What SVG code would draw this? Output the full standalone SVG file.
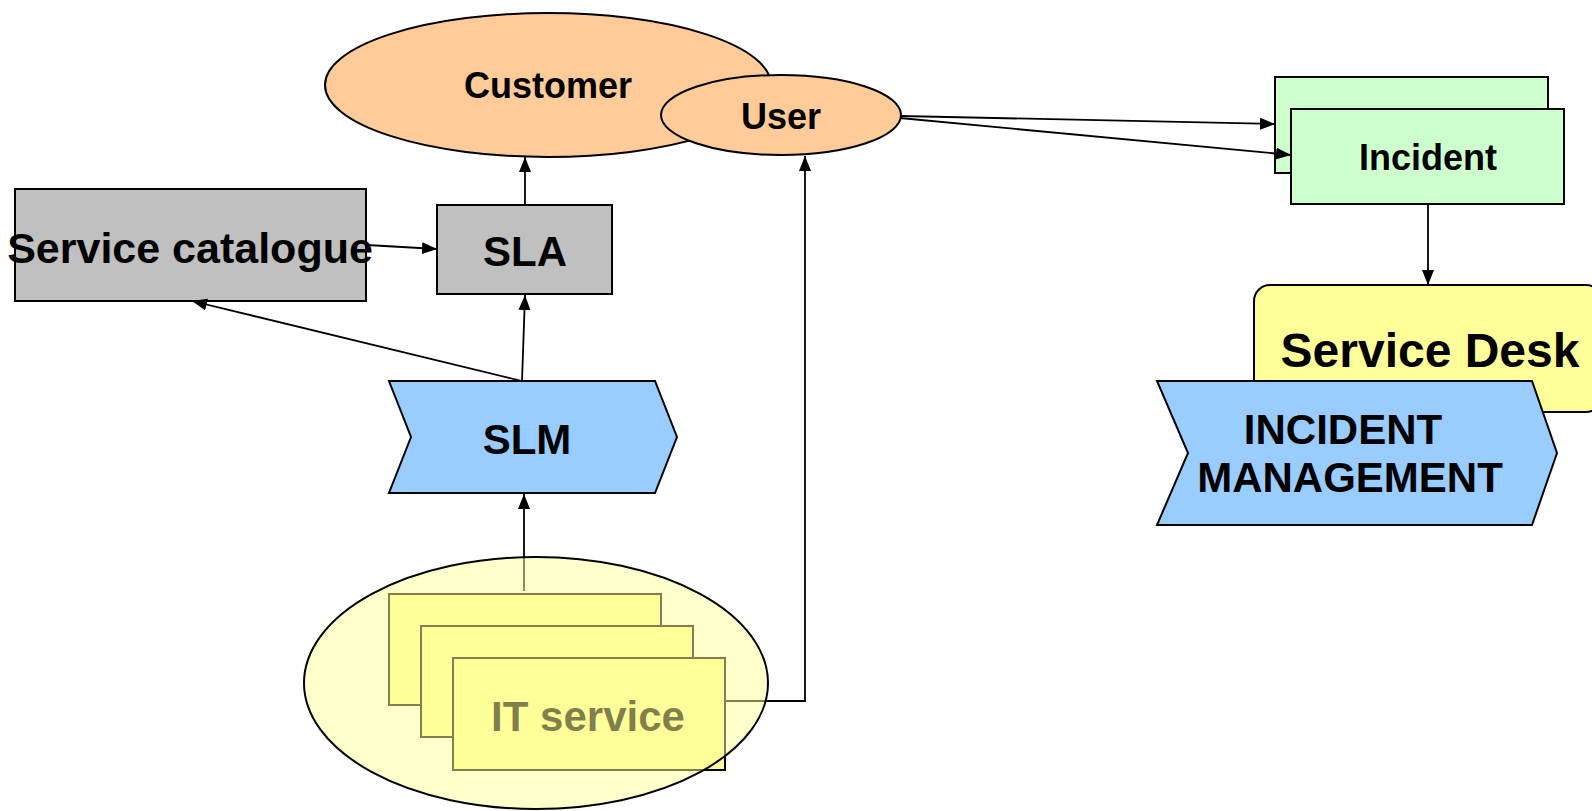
<svg xmlns="http://www.w3.org/2000/svg" width="1592" height="811" viewBox="0 0 1592 811">
  <style>
    .lbl { font-family: "Liberation Sans", Arial, sans-serif; font-weight: bold; fill: #000; text-anchor: middle; }
    .s36 { font-size: 36px; }
    .s42 { font-size: 42px; }
    .s43 { font-size: 43px; }
    .s48 { font-size: 48px; }
    .shape { stroke: #000; stroke-width: 2; }
    .peach { fill: #ffcc99; }
    .grey { fill: #c0c0c0; }
    .blue { fill: #99ccff; }
    .green { fill: #ccffcc; }
    .yellow { fill: #ffff99; }
    .conn { fill: none; stroke: #000; stroke-width: 1.8; }
  </style>
  <defs>
    <marker id="arrow" markerUnits="userSpaceOnUse" markerWidth="16" markerHeight="13" refX="15" refY="6" orient="auto">
      <path d="M0,0 L15,6 L0,12 z" fill="#000"/>
    </marker>
  </defs>
  <rect width="1592" height="811" fill="#fff"/>

  <!-- Customer -->
  <g id="customer">
    <ellipse class="shape peach" cx="548" cy="85" rx="223" ry="72"/>
    <text class="lbl s36" x="548" y="98">Customer</text>
  </g>

  <!-- User -->
  <g id="user">
    <ellipse class="shape peach" cx="781" cy="115" rx="120" ry="40"/>
    <text class="lbl s36" x="781" y="129">User</text>
  </g>

  <!-- Service catalogue -->
  <g id="service-catalogue">
    <rect class="shape grey" x="15" y="189" width="351" height="112"/>
    <text class="lbl s43" x="190" y="263">Service catalogue</text>
  </g>

  <!-- SLA -->
  <g id="sla">
    <rect class="shape grey" x="437" y="205" width="175" height="89"/>
    <text class="lbl s42" x="525" y="266">SLA</text>
  </g>

  <!-- SLM process chevron -->
  <g id="slm">
    <polygon class="shape blue" points="389,381 655,381 677,437 655,493 389,493 411,437"/>
    <text class="lbl s42" x="527" y="454">SLM</text>
  </g>

  <!-- Incident records -->
  <g id="incident">
    <rect class="shape green" x="1275" y="77" width="273" height="96"/>
    <rect class="shape green" x="1291" y="109" width="273" height="95"/>
    <text class="lbl s36" x="1428" y="170">Incident</text>
  </g>

  <!-- Service Desk -->
  <g id="service-desk">
    <rect class="shape yellow" x="1254" y="285" width="348" height="127" rx="16" ry="16"/>
    <text class="lbl s48" x="1430" y="367">Service Desk</text>
  </g>

  <!-- Incident Management process chevron -->
  <g id="incident-management">
    <polygon class="shape blue" points="1157,381 1532,381 1557,453 1532,525 1157,525 1188,453"/>
    <text class="lbl s42" x="1343" y="444">INCIDENT</text>
    <text class="lbl s42" x="1350" y="492">MANAGEMENT</text>
  </g>

  <!-- connectors -->
  <g id="connectors">
    <line class="conn" x1="525" y1="204" x2="525" y2="157" marker-end="url(#arrow)"/>
    <line class="conn" x1="367" y1="245" x2="437" y2="249" marker-end="url(#arrow)"/>
    <line class="conn" x1="522" y1="381" x2="192" y2="301" marker-end="url(#arrow)"/>
    <line class="conn" x1="522" y1="381" x2="525" y2="295" marker-end="url(#arrow)"/>
    <line class="conn" x1="524" y1="591" x2="524" y2="494" marker-end="url(#arrow)"/>
    <polyline class="conn" points="725,701 805,701 805,156" marker-end="url(#arrow)"/>
    <line class="conn" x1="900" y1="116" x2="1275" y2="124" marker-end="url(#arrow)"/>
    <line class="conn" x1="900" y1="118" x2="1291" y2="155" marker-end="url(#arrow)"/>
    <line class="conn" x1="1428" y1="204" x2="1428" y2="285" marker-end="url(#arrow)"/>
  </g>

  <!-- IT service stack inside its translucent pool (drawn last so the pool tints what lies beneath) -->
  <g id="it-service">
    <rect class="shape yellow" x="389" y="594" width="272" height="111"/>
    <rect class="shape yellow" x="421" y="626" width="272" height="111"/>
    <rect class="shape yellow" x="453" y="658" width="272" height="112"/>
    <text class="lbl s42" x="588" y="731">IT service</text>
    <ellipse cx="536" cy="683" rx="232" ry="126" fill="#ffff99" fill-opacity="0.5" stroke="#000" stroke-width="2"/>
  </g>
</svg>
